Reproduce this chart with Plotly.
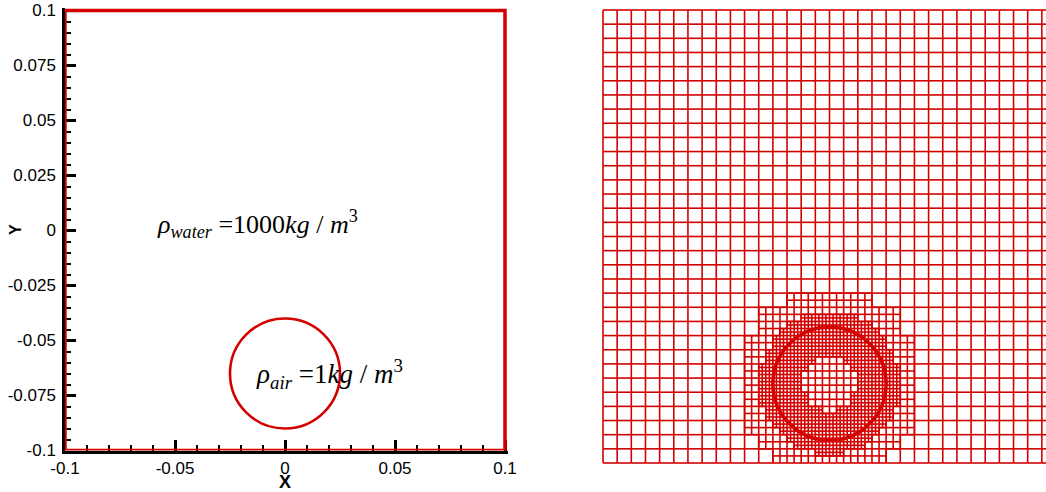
import numpy as np
import plotly.graph_objects as go

# ---------------- data ----------------
DOMAIN = [-0.1, 0.1]                 # square computational domain (m)
BUBBLE_CENTER = (0.0, -0.065)        # bubble centre (m)
BUBBLE_RADIUS = 0.025                # bubble radius (m)
BASE_CELLS = 32                      # coarse cells per side of the adaptive mesh
FINE_BAND = (1.9, 5.0)               # distance band (coarse cells) refined twice
MID_BAND = (1.1, 6.0)                # distance band (coarse cells) refined once

X_TICKS = [-0.1, -0.05, 0, 0.05, 0.1]
X_TICK_LABELS = ["-0.1", "-0.05", "0", "0.05", "0.1"]
Y_TICKS = [0.1, 0.075, 0.05, 0.025, 0, -0.025, -0.05, -0.075, -0.1]
Y_TICK_LABELS = ["0.1", "0.075", "0.05", "0.025", "0", "-0.025", "-0.05", "-0.075", "-0.1"]

WATER_LABEL = "<i>ρ</i><sub><i>water</i></sub> =1000<i>kg</i> / <i>m</i><sup>3</sup>"
AIR_LABEL = "<i>ρ</i><sub><i>air</i></sub> =1<i>kg</i> / <i>m</i><sup>3</sup>"

RED = "#d40000"

# ---------------- adaptive mesh ----------------
N = BASE_CELLS
h = (DOMAIN[1] - DOMAIN[0]) / N
cx, cy = BUBBLE_CENTER


def dist(x, y):
    return np.hypot(x - cx, y - cy) / h


split2 = np.zeros((2 * N, 2 * N), bool)
for i in range(2 * N):
    for j in range(2 * N):
        d = dist(DOMAIN[0] + (i + 0.5) * h / 2, DOMAIN[0] + (j + 0.5) * h / 2)
        split2[i, j] = FINE_BAND[0] <= d <= FINE_BAND[1]

fine_in_base = split2.reshape(N, 2, N, 2).any(axis=(1, 3))
split1 = np.zeros((N, N), bool)
for i in range(N):
    for j in range(N):
        d = dist(DOMAIN[0] + (i + 0.5) * h, DOMAIN[0] + (j + 0.5) * h)
        near_fine = fine_in_base[max(i - 1, 0):i + 2, max(j - 1, 0):j + 2].any()
        split1[i, j] = (MID_BAND[0] <= d <= MID_BAND[1]) or near_fine

edges = set()


def add_cell(a, b, s):
    edges.add((a, b, a + s, b))
    edges.add((a, b + s, a + s, b + s))
    edges.add((a, b, a, b + s))
    edges.add((a + s, b, a + s, b + s))


for i in range(N):
    for j in range(N):
        if not split1[i, j]:
            add_cell(4 * i, 4 * j, 4)
            continue
        for di in range(2):
            for dj in range(2):
                ii, jj = 2 * i + di, 2 * j + dj
                if split2[ii, jj]:
                    for fi in range(2):
                        for fj in range(2):
                            add_cell(2 * ii + fi, 2 * jj + fj, 1)
                else:
                    add_cell(2 * ii, 2 * jj, 2)

q = h / 4
mx, my = [], []
for (a, b, c, d) in sorted(edges):
    mx += [DOMAIN[0] + a * q, DOMAIN[0] + c * q, None]
    my += [DOMAIN[0] + b * q, DOMAIN[0] + d * q, None]

# ---------------- figure ----------------
W, H = 1046, 492


def px(xp):
    return min(1.0, max(0.0, xp / W))


def py(yp):
    return min(1.0, max(0.0, (H - yp) / H))


fig = go.Figure()

fig.add_trace(go.Scatter(x=mx, y=my, mode="lines", xaxis="x2", yaxis="y2",
                         line=dict(color=RED, width=1.6), hoverinfo="skip"))

shapes = [
    dict(type="rect", xref="x", yref="y", x0=DOMAIN[0], x1=DOMAIN[1], y0=DOMAIN[0], y1=DOMAIN[1],
         line=dict(color=RED, width=3.5)),
    dict(type="circle", xref="x", yref="y",
         x0=cx - BUBBLE_RADIUS, x1=cx + BUBBLE_RADIUS, y0=cy - BUBBLE_RADIUS, y1=cy + BUBBLE_RADIUS,
         line=dict(color=RED, width=2.6)),
    dict(type="circle", xref="x2", yref="y2",
         x0=cx - BUBBLE_RADIUS, x1=cx + BUBBLE_RADIUS, y0=cy - BUBBLE_RADIUS, y1=cy + BUBBLE_RADIUS,
         line=dict(color=RED, width=3.5)),
]

# left panel geometry (page pixels)
ppu = 440 / 0.2
eps = 2.5 / ppu
lx0, lx1 = 65, 505 + 2.5
ly_bot, ly_top = 450.5, 10.5 - 2.5

# right panel geometry (page pixels)
rppu = 453 / 0.2
pad = 2.0 / rppu
rx0 = 603 - 2.0
ry_top, ry_bot = 10 - 2.0, 463 + 2.0
rx_range_end = DOMAIN[0] + (W - 603) / rppu

tickfont = dict(family="Liberation Sans, Arial", size=17, color="black")

fig.update_layout(
    width=W, height=H, margin=dict(l=0, r=0, t=0, b=0, autoexpand=False),
    paper_bgcolor="white", plot_bgcolor="white", showlegend=False,
    shapes=shapes,
    xaxis=dict(domain=[px(lx0), px(lx1)], range=[DOMAIN[0], DOMAIN[1] + eps], automargin=False,
               tickmode="array", tickvals=X_TICKS, ticktext=X_TICK_LABELS,
               ticklabeloverflow="allow",
               ticks="inside", ticklen=11, tickwidth=2.5, tickcolor="black",
               showline=True, linecolor="black", linewidth=2.5, showgrid=False, zeroline=False,
               minor=dict(ticks="inside", dtick=0.01, tick0=0, ticklen=6, tickwidth=1.5,
                          tickcolor="black", showgrid=False),
               tickfont=tickfont, anchor="y"),
    yaxis=dict(domain=[py(ly_bot), py(ly_top)], range=[DOMAIN[0], DOMAIN[1] + eps],
               automargin=False, ticklabelstandoff=3, ticklabeloverflow="allow",
               tickmode="array", tickvals=Y_TICKS, ticktext=Y_TICK_LABELS,
               ticks="inside", ticklen=11, tickwidth=2.5, tickcolor="black",
               showline=True, linecolor="black", linewidth=2.5, showgrid=False, zeroline=False,
               minor=dict(ticks="inside", dtick=0.005, tick0=0, ticklen=6, tickwidth=1.5,
                          tickcolor="black", showgrid=False),
               tickfont=tickfont, anchor="x"),
    xaxis2=dict(domain=[px(rx0), 1.0], range=[DOMAIN[0] - pad, rx_range_end], visible=False,
                automargin=False, anchor="y2"),
    yaxis2=dict(domain=[py(ry_bot), py(ry_top)], automargin=False,
                range=[DOMAIN[0] - pad, DOMAIN[1] + pad], visible=False, anchor="x2"),
    annotations=[
        dict(text="<b>X</b>", xref="paper", yref="paper", x=px(285), y=py(482),
             showarrow=False, font=dict(family="Liberation Sans, Arial", size=18, color="black"),
             xanchor="center", yanchor="middle"),
        dict(text="<b>Y</b>", xref="paper", yref="paper", x=px(15), y=py(230),
             showarrow=False, textangle=-90,
             font=dict(family="Liberation Sans, Arial", size=16, color="black"),
             xanchor="center", yanchor="middle"),
        dict(text=WATER_LABEL, xref="paper", yref="paper", x=px(155), y=py(224),
             showarrow=False, font=dict(family="Liberation Serif, Times New Roman", size=26,
                                        color="black"),
             xanchor="left", yanchor="middle"),
        dict(text=AIR_LABEL, xref="paper", yref="paper", x=px(254), y=py(374),
             showarrow=False, font=dict(family="Liberation Serif, Times New Roman", size=27,
                                        color="black"),
             xanchor="left", yanchor="middle"),
    ],
)

fig.write_html("out.html", config={"displayModeBar": False},
               post_script="document.body.style.margin='0px';document.body.style.padding='0px';")
